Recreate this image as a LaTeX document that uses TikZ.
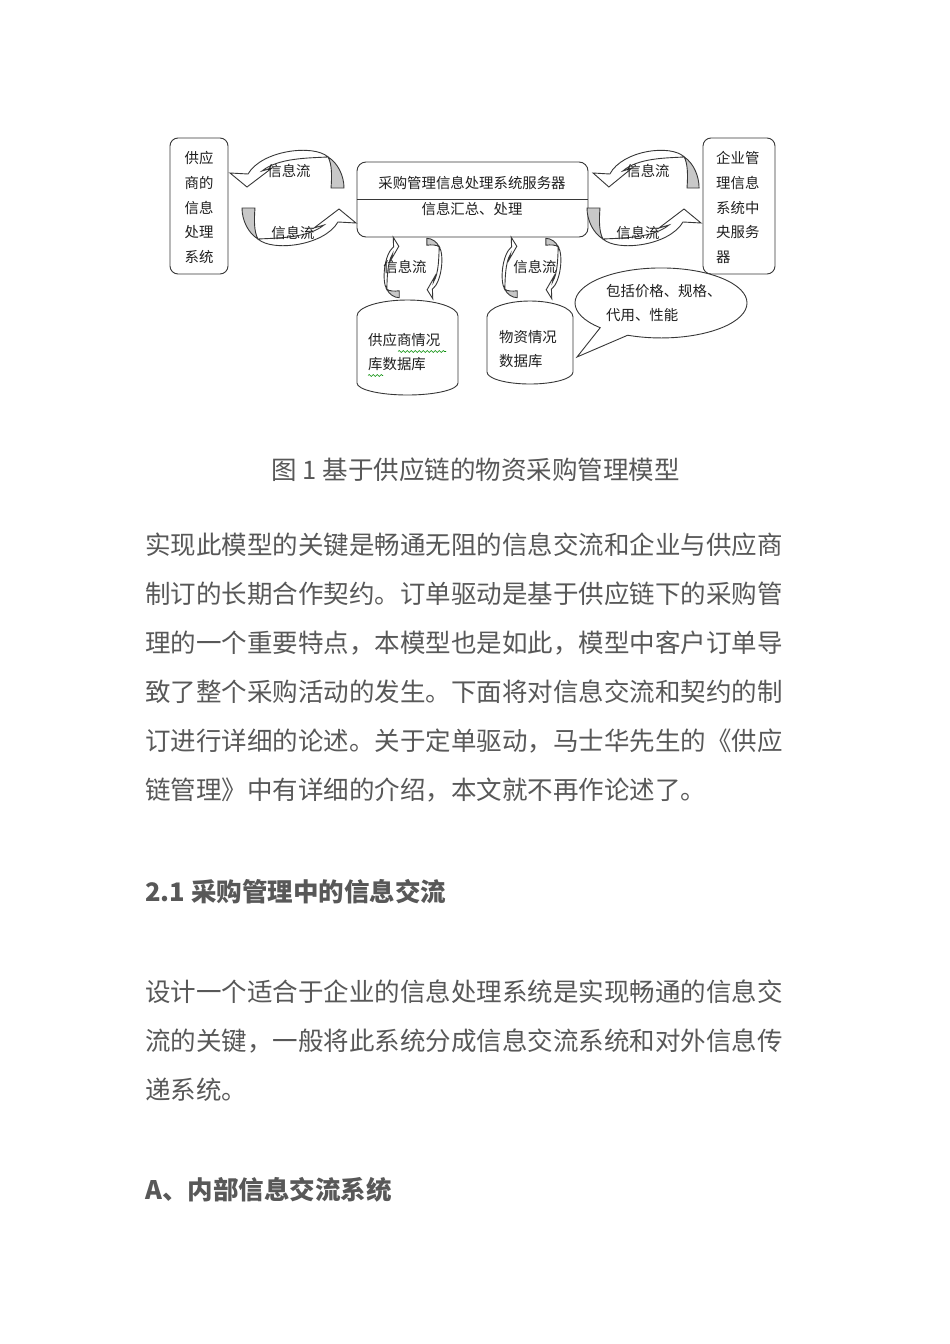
\documentclass[tikz,border=0pt]{standalone}
\usepackage{fontspec}
\setmainfont{Noto Sans CJK SC}
\usetikzlibrary{decorations.pathmorphing}
\definecolor{bodygray}{RGB}{88,88,88}
\definecolor{linec}{RGB}{55,55,55}
\definecolor{shadec}{RGB}{200,200,200}
\newcommand{\infoarrow}{%
  \filldraw[outl, fill=white] (-40,-16) .. controls (-26,-40) and (26,-46) .. (40,-33)
     .. controls (20,-32) and (-10,-32) .. (-26,-19) -- (-16,-22) -- (-41,-3) -- (-58,-17) -- cycle;
  \filldraw[outl, fill=shadec] (40,-33) .. controls (50,-27) and (56,-14) .. (56,-2) -- (43,-2)
     .. controls (44,-14) and (44,-26) .. (40,-33) -- cycle;
}
\begin{document}
\begin{tikzpicture}[x=1pt,y=-1pt,
  outl/.style={draw=linec, line width=0.9pt},
  box/.style={outl, rounded corners=8pt, fill=white},
  dtext/.style={font={\fontsize{14.4}{24.8}\selectfont}, text=black!88, inner sep=0pt},
  body/.style={font={\fontsize{25.5}{25.5}\selectfont}, text=bodygray, inner sep=0pt, anchor=west},
  head/.style={font={\fontsize{25.5}{25.5}\selectfont\bfseries}, text=bodygray, inner sep=0pt, anchor=west},
  wavy/.style={draw=green!55!black, line width=0.6pt, decorate, decoration={snake, amplitude=1pt, segment length=4pt}}]
\fill[white] (0,0) rectangle (950,1344);
\path[use as bounding box] (0,0) rectangle (950,1344);

% boxes
\node[box, minimum width=58pt, minimum height=136pt] (sup) at (199,206) {};
\node[dtext, align=center] (suptxt) at (199,207.5) {供应\\商的\\信息\\处理\\系统};
\node[box, rounded corners=9pt, minimum width=231pt, minimum height=75pt] (srv) at (472.5,199.5) {};
\draw[outl] (srv.west) -- (srv.east);
\node[dtext] (srvtitle) at (472,183) {采购管理信息处理系统服务器};
\node[dtext] (srvsub) at (472,209) {信息汇总、处理};
\node[box, minimum width=72pt, minimum height=136pt] (ent) at (739,206) {};
\node[dtext, align=left, anchor=west] (enttxt) at (716,207.5) {企业管\\理信息\\系统中\\央服务\\器};

% horizontal curved arrows
\begin{scope}[shift={(288,190)}]\infoarrow\end{scope}
\begin{scope}[shift={(298,206)}, rotate=180]\infoarrow\end{scope}
\begin{scope}[shift={(647,190)}, xscale=0.93]\infoarrow\end{scope}
\begin{scope}[shift={(643,206)}, rotate=180]\infoarrow\end{scope}
\node[dtext] (f1) at (289,171) {信息流};
\node[dtext] (f2) at (293,233) {信息流};
\node[dtext] (f3) at (648,171) {信息流};
\node[dtext] (f4) at (638,233) {信息流};

% vertical curved arrows
\begin{scope}[shift={(400,268)}, cm={0,-0.53,-0.4,0,(0,0)}]\infoarrow\end{scope}
\begin{scope}[shift={(426,268)}, cm={0,0.53,0.4,0,(0,0)}]\infoarrow\end{scope}
\begin{scope}[shift={(518,268)}, cm={0,-0.53,-0.4,0,(0,0)}]\infoarrow\end{scope}
\begin{scope}[shift={(545,268)}, cm={0,0.53,0.4,0,(0,0)}]\infoarrow\end{scope}
\node[dtext] (f5) at (405,267) {信息流};
\node[dtext] (f6) at (535,267) {信息流};

% cylinders
\filldraw[outl, fill=white] (357,316) arc[start angle=180, end angle=360, x radius=50.5, y radius=16]
  -- (458,383) arc[start angle=0, end angle=180, x radius=50.5, y radius=12] -- cycle;
\node[dtext, align=left, anchor=west] (db1) at (368,352) {供应商情况\\库数据库};
\draw[wavy] (398,351.5) -- (446,351.5);
\draw[wavy] (368,375.5) -- (383,375.5);
\filldraw[outl, fill=white] (487,317) arc[start angle=180, end angle=360, x radius=43, y radius=16]
  -- (573,372) arc[start angle=0, end angle=180, x radius=43, y radius=12] -- cycle;
\node[dtext, align=left, anchor=west] (db2) at (499,349) {物资情况\\数据库};

% callout
\filldraw[outl, fill=white] (600.2,327.7) arc[start angle=135, end angle=472.8, x radius=86, y radius=35]
  -- (577,357) -- cycle;
\node[dtext, align=left, anchor=west] (note) at (606,303) {包括价格、规格、\\代用、性能};

% caption and text
\node[font={\fontsize{25.5}{25.5}\selectfont}, text=bodygray, inner sep=0pt] (cap) at (475.5,470) {图 1 基于供应链的物资采购管理模型};
\node[body] (l1) at (145,545) {实现此模型的关键是畅通无阻的信息交流和企业与供应商};
\node[body] (l2) at (145,594) {制订的长期合作契约。订单驱动是基于供应链下的采购管};
\node[body] (l3) at (145,643) {理的一个重要特点，本模型也是如此，模型中客户订单导};
\node[body] (l4) at (145,692) {致了整个采购活动的发生。下面将对信息交流和契约的制};
\node[body] (l5) at (145,741) {订进行详细的论述。关于定单驱动，马士华先生的《供应};
\node[body] (l6) at (145,790) {链管理》中有详细的介绍，本文就不再作论述了。};
\node[head] (h1) at (145,892) {2.1 采购管理中的信息交流};
\node[body] (m1) at (145,992) {设计一个适合于企业的信息处理系统是实现畅通的信息交};
\node[body] (m2) at (145,1041) {流的关键，一般将此系统分成信息交流系统和对外信息传};
\node[body] (m3) at (145,1090) {递系统。};
\node[head] (h2) at (145,1190) {A、内部信息交流系统};
\end{tikzpicture}
\end{document}
